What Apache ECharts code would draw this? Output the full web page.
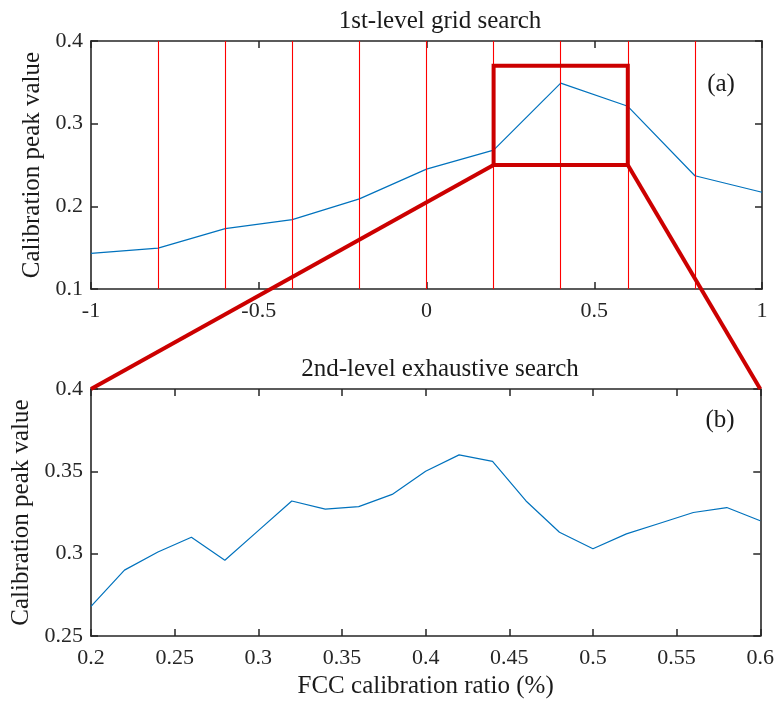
<!DOCTYPE html>
<html><head><meta charset="utf-8">
<script src="https://cdn.jsdelivr.net/npm/echarts@6/dist/echarts.min.js"></script>
<style>html,body{margin:0;padding:0;background:#fff}#c{width:777px;height:702px}</style>
</head><body><div id="c"></div>
<script>
// ---- data ----
const topX = [-1, -0.8, -0.6, -0.4, -0.2, 0, 0.2, 0.4, 0.6, 0.8, 1];
const topY = [0.143, 0.1495, 0.173, 0.184, 0.209, 0.245, 0.268, 0.349, 0.321, 0.237, 0.217];
const gridX = [-0.8, -0.6, -0.4, -0.2, 0, 0.2, 0.4, 0.6, 0.8];
const zoomBox = { x0: 0.2, x1: 0.6, y0: 0.25, y1: 0.37 };
const botX = [0.2, 0.22, 0.24, 0.26, 0.28, 0.3, 0.32, 0.34, 0.36, 0.38, 0.4, 0.42, 0.44, 0.46, 0.48, 0.5, 0.52, 0.54, 0.56, 0.58, 0.6];
const botY = [0.268, 0.290, 0.301, 0.310, 0.296, 0.314, 0.332, 0.327, 0.3286, 0.336, 0.350, 0.360, 0.356, 0.332, 0.313, 0.303, 0.312, 0.3185, 0.325, 0.328, 0.320];
const titles = ['1st-level grid search', '2nd-level exhaustive search'];
const xName = 'FCC calibration ratio (%)';
const yName = 'Calibration peak value';
const panelLabels = ['(a)', '(b)'];

const FONT = '"Liberation Serif", "Times New Roman", serif';
const AX = '#262626';
const TXT = '#1a1a1a';
const TICKFS = 22;
const BIGFS = 25;
const chart = echarts.init(document.getElementById('c'), null, { renderer: 'canvas' });

const fmt = v => String(+v.toFixed(2));
function axisBase(extra, labelMargin) {
  return Object.assign({
    axisLine: { show: true, onZero: false, lineStyle: { color: AX, width: 1.6 } },
    axisTick: { show: true, inside: true, length: 7, lineStyle: { color: AX, width: 1.5 } },
    axisLabel: { color: AX, fontFamily: FONT, fontSize: TICKFS, margin: labelMargin, formatter: fmt },
    splitLine: { show: false }
  }, extra);
}
function mirror(extra) {
  return axisBase(Object.assign({ axisLabel: { show: false } }, extra), 0);
}

const option = {
  animation: false,
  backgroundColor: '#fff',
  title: [
    { text: titles[0], left: 435, top: 4, textAlign: 'center', textStyle: { fontFamily: FONT, fontSize: BIGFS, fontWeight: 'normal', color: TXT } },
    { text: titles[1], left: 435, top: 352, textAlign: 'center', textStyle: { fontFamily: FONT, fontSize: BIGFS, fontWeight: 'normal', color: TXT } }
  ],
  grid: [
    { left: 91, top: 41, width: 671, height: 248 },
    { left: 91, top: 389, width: 671, height: 247 }
  ],
  xAxis: [
    axisBase({ type: 'value', gridIndex: 0, min: -1, max: 1, interval: 0.5, position: 'bottom' }, 11),
    mirror({ type: 'value', gridIndex: 0, min: -1, max: 1, interval: 0.5, position: 'top' }),
    axisBase({ type: 'value', gridIndex: 1, min: 0.2, max: 0.6, interval: 0.05, position: 'bottom',
      name: xName, nameLocation: 'middle', nameGap: 38, nameTextStyle: { fontFamily: FONT, fontSize: BIGFS, color: TXT } }, 11),
    mirror({ type: 'value', gridIndex: 1, min: 0.2, max: 0.6, interval: 0.05, position: 'top' })
  ],
  yAxis: [
    axisBase({ type: 'value', gridIndex: 0, min: 0.1, max: 0.4, interval: 0.1, position: 'left',
      name: yName, nameLocation: 'middle', nameGap: 41, nameTextStyle: { fontFamily: FONT, fontSize: BIGFS, color: TXT } }, 8),
    mirror({ type: 'value', gridIndex: 0, min: 0.1, max: 0.4, interval: 0.1, position: 'right' }),
    axisBase({ type: 'value', gridIndex: 1, min: 0.25, max: 0.4, interval: 0.05, position: 'left',
      name: yName, nameLocation: 'middle', nameGap: 54, nameTextStyle: { fontFamily: FONT, fontSize: BIGFS, color: TXT } }, 8),
    mirror({ type: 'value', gridIndex: 1, min: 0.25, max: 0.4, interval: 0.05, position: 'right' })
  ],
  series: [
    { type: 'line', xAxisIndex: 0, yAxisIndex: 0, data: [], silent: true,
      markLine: { silent: true, symbol: 'none', label: { show: false },
        lineStyle: { color: '#ff0000', width: 1.1, type: 'solid' },
        data: gridX.map(v => ({ xAxis: v })) } },
    { type: 'line', xAxisIndex: 0, yAxisIndex: 0, data: topX.map((x, i) => [x, topY[i]]),
      symbol: 'none', lineStyle: { color: '#0072BD', width: 1.2 }, z: 3 },
    { type: 'line', xAxisIndex: 0, yAxisIndex: 0,
      data: [[zoomBox.x0, zoomBox.y0], [zoomBox.x1, zoomBox.y0], [zoomBox.x1, zoomBox.y1], [zoomBox.x0, zoomBox.y1], [zoomBox.x0, zoomBox.y0]],
      symbol: 'none', lineStyle: { color: '#cc0000', width: 4, cap: 'square', join: 'miter' }, z: 5 },
    { type: 'line', xAxisIndex: 2, yAxisIndex: 2, data: botX.map((x, i) => [x, botY[i]]),
      symbol: 'none', lineStyle: { color: '#0072BD', width: 1.2 }, z: 3 }
  ]
};
chart.setOption(option);

// connecting zoom lines, computed from the axes' scales
const a0 = chart.convertToPixel({ xAxisIndex: 0, yAxisIndex: 0 }, [zoomBox.x0, zoomBox.y0]);
const a1 = chart.convertToPixel({ xAxisIndex: 0, yAxisIndex: 0 }, [zoomBox.x1, zoomBox.y0]);
const b0 = chart.convertToPixel({ xAxisIndex: 2, yAxisIndex: 2 }, [0.2, 0.4]);
const b1 = chart.convertToPixel({ xAxisIndex: 2, yAxisIndex: 2 }, [0.6, 0.4]);
const pa = chart.convertToPixel({ xAxisIndex: 0, yAxisIndex: 0 }, [0.878, 0.347]);
const pb = chart.convertToPixel({ xAxisIndex: 2, yAxisIndex: 2 }, [0.576, 0.381]);
chart.setOption({
  graphic: [
    { type: 'line', z: 100, shape: { x1: a0[0], y1: a0[1], x2: b0[0], y2: b0[1] }, style: { stroke: '#cc0000', lineWidth: 4 } },
    { type: 'line', z: 100, shape: { x1: a1[0], y1: a1[1], x2: b1[0], y2: b1[1] }, style: { stroke: '#cc0000', lineWidth: 4 } },
    { type: 'text', z: 50, x: pa[0], y: pa[1], style: { text: panelLabels[0], font: BIGFS + 'px ' + FONT, fill: TXT, textAlign: 'center', textVerticalAlign: 'middle' } },
    { type: 'text', z: 50, x: pb[0], y: pb[1], style: { text: panelLabels[1], font: BIGFS + 'px ' + FONT, fill: TXT, textAlign: 'center', textVerticalAlign: 'middle' } }
  ]
});
</script></body></html>
